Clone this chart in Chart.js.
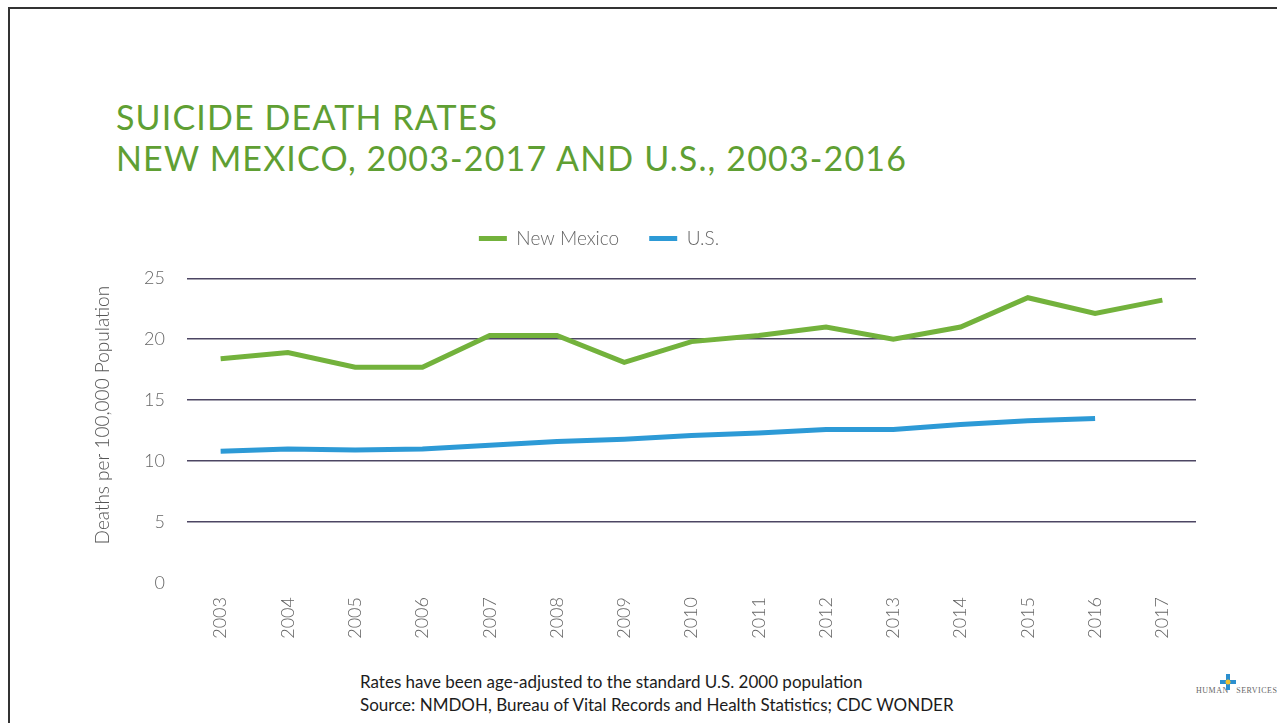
<!DOCTYPE html>
<html>
<head>
<meta charset="utf-8">
<script src="https://cdn.jsdelivr.net/npm/chart.js@4"></script>
<style>
  body { margin: 0; background: #fff; width: 1277px; height: 723px; overflow: hidden; position: relative; font-family: Lato, "Open Sans", sans-serif; }
  .frame { position: absolute; left: 8px; top: 7px; width: 1290px; height: 740px; border-left: 2px solid #333; border-top: 2px solid #333; }
  .title { position: absolute; left: 116px; top: 96px; color: #5f9f33; font-size: 34px; line-height: 41px; font-weight: 400; letter-spacing: 1.15px; }
  .notes { position: absolute; left: 360px; top: 670px; color: #1c1c1c; font-size: 17px; line-height: 23px; }
  #wrap { position: absolute; left: 0; top: 195px; width: 1204px; height: 465px; }
  .logo { position: absolute; left: 1196px; top: 686px; font-family: "Liberation Serif", serif; font-size: 8px; color: #666; letter-spacing: 0.5px; }
  .logo .cross { position: absolute; left: 24px; top: -12px; width: 16px; height: 16px; }
</style>
</head>
<body>
<div class="frame"></div>
<div class="title">SUICIDE DEATH RATES<br>NEW MEXICO, 2003-2017 AND U.S., 2003-2016</div>
<div id="wrap"><canvas id="chart"></canvas></div>
<div class="notes">Rates have been age-adjusted to the standard U.S. 2000 population<br>Source: NMDOH, Bureau of Vital Records and Health Statistics; CDC WONDER</div>
<div class="logo">
  <svg class="cross" viewBox="0 0 16 16"><rect x="6" y="0" width="4" height="16" fill="#2b8fcf"/><rect x="0" y="6" width="16" height="4" fill="#2b8fcf"/><circle cx="8" cy="8" r="2.5" fill="#f2c12e"/></svg>
  HUMAN&nbsp;&nbsp;&nbsp;SERVICES
</div>
<script>
const years = ['2003','2004','2005','2006','2007','2008','2009','2010','2011','2012','2013','2014','2015','2016','2017'];
const newMexico = [18.4, 18.9, 17.7, 17.7, 20.3, 20.3, 18.1, 19.8, 20.3, 21.0, 20.0, 21.0, 23.4, 22.1, 23.2];
const unitedStates = [10.8, 11.0, 10.9, 11.0, 11.3, 11.6, 11.8, 12.1, 12.3, 12.6, 12.6, 13.0, 13.3, 13.5, null];
const yTicks = [0, 5, 10, 15, 20, 25];

const canvas = document.getElementById('chart');
canvas.width = 1204;
canvas.height = 465;

new Chart(canvas, {
  type: 'line',
  data: {
    labels: years,
    datasets: [
      {
        label: 'New Mexico',
        data: newMexico,
        borderColor: '#73b23c',
        backgroundColor: '#73b23c',
        borderWidth: 5,
        pointRadius: 0,
        tension: 0,
      },
      {
        label: 'U.S.',
        data: unitedStates,
        borderColor: '#2d9ad6',
        backgroundColor: '#2d9ad6',
        borderWidth: 5,
        pointRadius: 0,
        tension: 0,
      },
    ],
  },
  options: {
    responsive: false,
    maintainAspectRatio: false,
    animation: false,
    layout: { padding: { left: 2, right: 8, top: 4, bottom: 0 } },
    plugins: {
      legend: {
        display: true,
        position: 'top',
        weight: 3000,
        labels: {
          usePointStyle: true,
          pointStyle: 'line',
          pointStyleWidth: 28,
          boxHeight: 5,
          padding: 30,
          color: '#666',
          font: { family: 'Lato', size: 19, weight: 300 },
        },
      },
      // empty title used only as a spacer between legend and plot
      title: {
        display: true,
        text: ' ',
        font: { size: 1 },
        padding: { top: 0, bottom: 19 },
      },
      tooltip: { enabled: false },
    },
    scales: {
      x: {
        offset: true,
        grid: { display: false },
        border: { display: false },
        ticks: {
          minRotation: 90,
          maxRotation: 90,
          padding: 6,
          color: '#666',
          font: { family: 'Lato', size: 18, weight: 300 },
        },
        afterFit: (scale) => { scale.height = 77; },
      },
      y: {
        min: 0,
        max: 25,
        afterBuildTicks: (scale) => { scale.ticks = yTicks.map(v => ({ value: v })); },
        grid: {
          color: (ctx) => ctx.tick && ctx.tick.value === 0 ? 'rgba(0,0,0,0)' : '#4d4663',
          lineWidth: 1.4,
          drawTicks: false,
        },
        border: { display: false },
        ticks: {
          padding: 22,
          color: '#666',
          font: { family: 'Lato', size: 18, weight: 300 },
        },
        title: {
          display: true,
          // leading spaces nudge the rotated title upward a little
          text: '      Deaths per 100,000 Population',
          color: '#555',
          font: { family: 'Lato', size: 19, weight: 300 },
          padding: { top: 89, bottom: 0 },
        },
        afterFit: (scale) => { scale.width = 185; },
      },
    },
  },
});
</script>
</body>
</html>
